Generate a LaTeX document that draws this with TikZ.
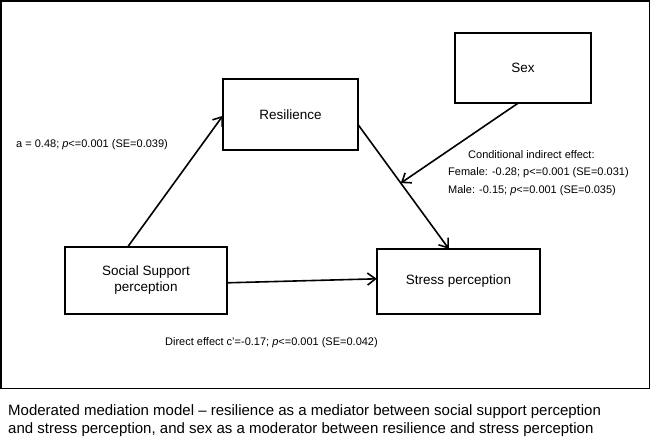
\documentclass[tikz,border=0pt]{standalone}
\usepackage{fontspec}
\setmainfont{Liberation Sans}
\usetikzlibrary{arrows.meta,calc}
\begin{document}
\begin{tikzpicture}[x=1pt,y=-1pt,
  lbl/.style={anchor=west,inner sep=0pt,font=\fontsize{11}{13}\selectfont},
  boxtext/.style={inner sep=0pt,align=center,font=\fontsize{13.5}{16}\selectfont},
  frame/.style={line width=1.8pt},
  arr/.style={line width=1.6pt,-{Straight Barb[length=8pt,width=12pt,line width=1.6pt]}},
  captext/.style={anchor=west,inner sep=0pt,font=\fontsize{15}{18}\selectfont}]
\useasboundingbox (0,0) rectangle (651,437);
\fill[white] (0,0) rectangle (651,437);
\draw[frame] (1,1) rectangle (649.5,388.5);
% boxes
\draw[frame] (223,79) rectangle (358,150);
\node (res) [boxtext,minimum width=135pt,minimum height=71pt] at (290.5,114.5) {Resilience};
\draw[frame] (455,33) rectangle (591,103);
\node (sex) [boxtext,minimum width=136pt,minimum height=70pt] at (523,68) {Sex};
\draw[frame] (65,247) rectangle (227,314);
\node (ss) [boxtext,minimum width=162pt,minimum height=67pt] at (146,280.5) {Social Support\\perception};
\draw[frame] (377,249) rectangle (540,314);
\node (sp) [boxtext,minimum width=163pt,minimum height=65pt] at (458.5,281.5) {Stress perception};
% arrows
\coordinate (a1) at ([xshift=63pt]ss.north west);
\coordinate (a2) at ([yshift=-37pt]res.north west);
\draw[arr] (a1) -- (a2);
\coordinate (b1) at ([yshift=-46pt]res.north east);
\coordinate (b2) at ([xshift=72pt]sp.north west);
\draw[arr] (b1) -- (b2);
\coordinate (m) at ($(b1)!0.47!(b2)$);
\coordinate (s1) at ([xshift=-5pt]sex.south);
\draw[arr] (s1) -- (m);
\coordinate (c1) at ([yshift=-36pt]ss.north east);
\coordinate (c2) at ([yshift=-30pt]sp.north west);
\draw[arr] (c1) -- (c2);
% labels
\node (la) [lbl] at (16,145) {a = 0.48; \textit{p}<=0.001 (SE=0.039)};
\node (lc) [lbl] at (468,155) {Conditional indirect effect:};
\node (lf) [lbl] at (448,172.5) {Female: -0.28; p<=0.001 (SE=0.031)};
\node (lm) [lbl] at (448,190.5) {Male: -0.15; \textit{p}<=0.001 (SE=0.035)};
\node (ld) [lbl] at (165,343) {Direct effect c'=-0.17; \textit{p}<=0.001 (SE=0.042)};
% caption
\node (cap1) [captext] at (8,412) {Moderated mediation model -- resilience as a mediator between social support perception};
\node (cap2) [captext] at (8,430) {and stress perception, and sex as a moderator between resilience and stress perception};
\end{tikzpicture}
\end{document}
